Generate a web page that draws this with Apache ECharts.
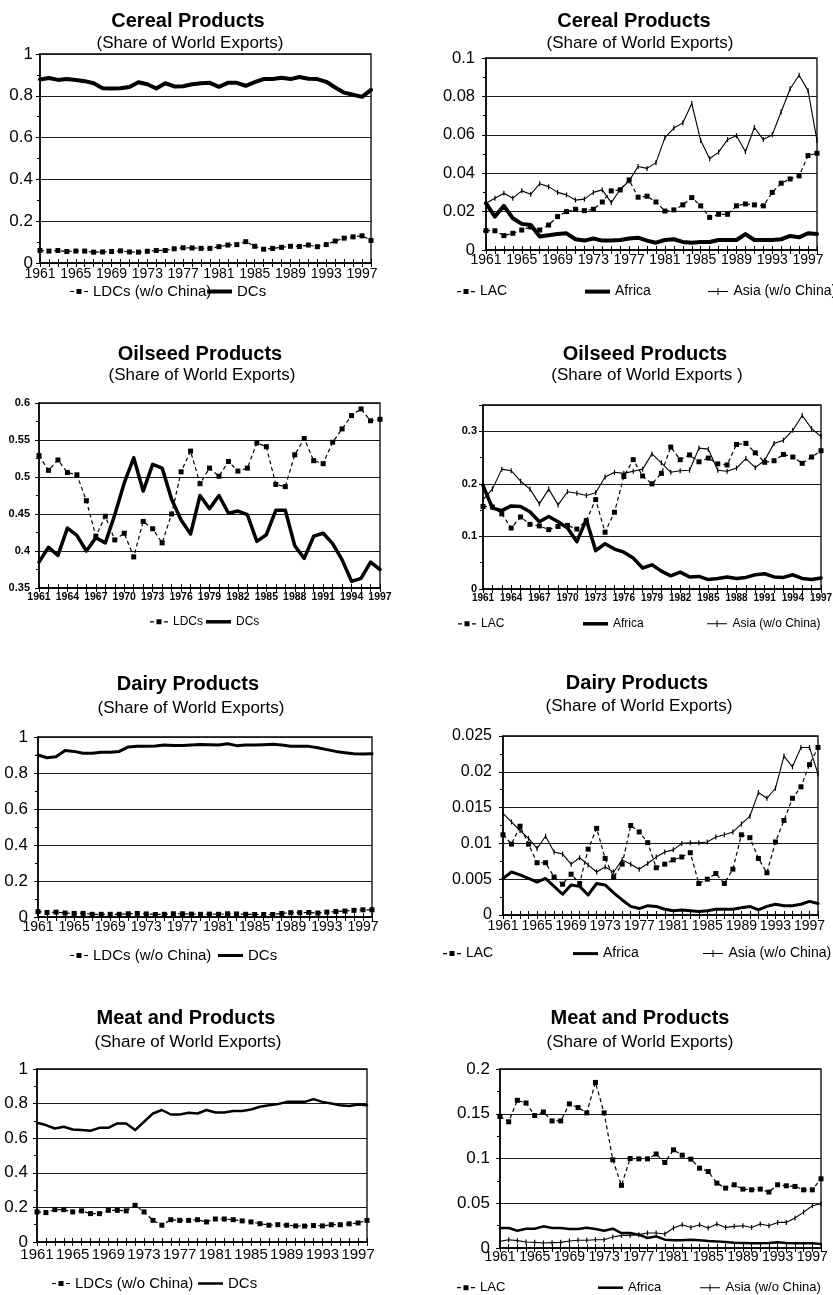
<!DOCTYPE html>
<html>
<head>
<meta charset="utf-8">
<script src="https://cdn.jsdelivr.net/npm/echarts@6/dist/echarts.min.js"></script>
<style>
  html, body { margin: 0; padding: 0; background: #fff; }
  #chart { width: 833px; height: 1295px; }
</style>
</head>
<body>
<div id="chart"></div>
<script>
// Year categories
const yearsTo1998 = ['1961','1962','1963','1964','1965','1966','1967','1968','1969','1970',
  '1971','1972','1973','1974','1975','1976','1977','1978','1979','1980',
  '1981','1982','1983','1984','1985','1986','1987','1988','1989','1990',
  '1991','1992','1993','1994','1995','1996','1997','1998'];
const yearsTo1997 = yearsTo1998.slice(0, 37);

// Cereal products, share of world exports
const cerealLdcs = [0.060,0.057,0.060,0.055,0.057,0.057,0.052,0.053,0.055,0.058,
  0.053,0.052,0.056,0.060,0.060,0.068,0.073,0.072,0.070,0.070,
  0.078,0.086,0.088,0.102,0.080,0.066,0.070,0.075,0.080,0.079,
  0.086,0.078,0.088,0.105,0.119,0.125,0.130,0.108];
const cerealDcs = [0.878,0.885,0.876,0.880,0.876,0.870,0.860,0.836,0.835,0.836,
  0.842,0.865,0.855,0.835,0.860,0.845,0.846,0.855,0.860,0.862,
  0.843,0.862,0.862,0.848,0.865,0.880,0.880,0.886,0.880,0.890,
  0.882,0.880,0.867,0.840,0.815,0.805,0.795,0.828];
const cerealLac = [0.0101,0.0100,0.0075,0.0087,0.0104,0.0120,0.0104,0.0130,0.0174,0.0200,
  0.0212,0.0205,0.0212,0.0250,0.0308,0.0313,0.0365,0.0275,0.0280,0.0250,
  0.0203,0.0209,0.0235,0.0273,0.0230,0.0170,0.0186,0.0186,0.0230,0.0240,
  0.0235,0.0230,0.0300,0.0348,0.0370,0.0386,0.0492,0.0504];
const cerealAfrica = [0.0243,0.0174,0.0230,0.0165,0.0136,0.0130,0.0070,0.0077,0.0083,0.0087,
  0.0056,0.0049,0.0060,0.0049,0.0049,0.0052,0.0060,0.0064,0.0049,0.0038,
  0.0052,0.0056,0.0042,0.0038,0.0042,0.0042,0.0052,0.0052,0.0052,0.0083,
  0.0052,0.0052,0.0052,0.0056,0.0073,0.0066,0.0087,0.0083];
const cerealAsia = [0.0243,0.0270,0.0296,0.0270,0.0308,0.0290,0.0345,0.0330,0.0300,0.0287,
  0.0260,0.0265,0.0300,0.0313,0.0247,0.0315,0.0360,0.0435,0.0425,0.0455,
  0.0585,0.0635,0.0662,0.0763,0.0570,0.0475,0.0510,0.0575,0.0595,0.0512,
  0.0638,0.0575,0.0600,0.0720,0.0840,0.0910,0.0830,0.0570];

// Oilseed products (1961-1997)
const oilLdcs = [0.529,0.509,0.523,0.506,0.503,0.468,0.420,0.447,0.415,0.424,
  0.392,0.440,0.430,0.411,0.450,0.507,0.535,0.491,0.512,0.501,
  0.521,0.508,0.512,0.546,0.541,0.490,0.487,0.530,0.552,0.522,
  0.518,0.547,0.565,0.583,0.592,0.576,0.578];
const oilDcs = [0.385,0.405,0.394,0.431,0.421,0.400,0.418,0.411,0.449,0.492,
  0.526,0.481,0.517,0.512,0.470,0.442,0.423,0.475,0.457,0.475,
  0.451,0.454,0.449,0.413,0.422,0.455,0.455,0.407,0.390,0.420,
  0.424,0.410,0.388,0.359,0.363,0.385,0.375];
const oilLac = [0.157,0.156,0.143,0.116,0.137,0.123,0.120,0.113,0.119,0.121,
  0.114,0.130,0.170,0.108,0.146,0.214,0.246,0.215,0.200,0.220,
  0.270,0.246,0.255,0.242,0.249,0.238,0.236,0.275,0.277,0.259,
  0.241,0.244,0.256,0.251,0.239,0.251,0.263];
const oilAfrica = [0.197,0.154,0.149,0.158,0.157,0.147,0.128,0.138,0.128,0.116,
  0.090,0.132,0.073,0.086,0.076,0.070,0.059,0.040,0.046,0.034,
  0.025,0.032,0.023,0.024,0.018,0.020,0.023,0.020,0.022,0.027,
  0.029,0.023,0.022,0.027,0.020,0.018,0.021];
const oilAsia = [0.170,0.190,0.228,0.225,0.205,0.190,0.162,0.190,0.160,0.185,
  0.182,0.178,0.183,0.213,0.222,0.220,0.224,0.228,0.257,0.240,
  0.222,0.225,0.226,0.268,0.266,0.226,0.224,0.230,0.248,0.231,
  0.245,0.277,0.283,0.302,0.330,0.305,0.290];

// Dairy products
const dairyLdcs = [0.030,0.025,0.027,0.022,0.020,0.020,0.015,0.015,0.015,0.015,
  0.018,0.020,0.017,0.014,0.015,0.018,0.018,0.016,0.015,0.016,
  0.015,0.018,0.017,0.015,0.014,0.014,0.014,0.020,0.024,0.024,
  0.025,0.022,0.027,0.030,0.033,0.037,0.040,0.040];
const dairyDcs = [0.900,0.885,0.890,0.925,0.920,0.910,0.910,0.915,0.915,0.920,
  0.945,0.948,0.948,0.950,0.955,0.953,0.953,0.955,0.958,0.957,
  0.955,0.962,0.952,0.955,0.955,0.957,0.960,0.955,0.948,0.948,
  0.948,0.940,0.930,0.920,0.913,0.907,0.905,0.907];
const dairyLac = [0.0112,0.0099,0.0124,0.0099,0.0073,0.0073,0.0053,0.0043,0.0057,0.0044,
  0.0092,0.0121,0.0079,0.0053,0.0071,0.0125,0.0116,0.0101,0.0066,0.0071,
  0.0077,0.0081,0.0087,0.0044,0.0050,0.0058,0.0044,0.0064,0.0112,0.0108,
  0.0079,0.0059,0.0102,0.0132,0.0163,0.0179,0.0210,0.0234];
const dairyAfrica = [0.0051,0.0060,0.0056,0.0051,0.0046,0.0051,0.0040,0.0029,0.0042,0.0040,
  0.0028,0.0044,0.0042,0.0031,0.0021,0.0012,0.0009,0.0013,0.0012,0.0008,
  0.0006,0.0007,0.0006,0.0005,0.0006,0.0008,0.0008,0.0008,0.0010,0.0012,
  0.0007,0.0012,0.0015,0.0013,0.0013,0.0015,0.0019,0.0016];
const dairyAsia = [0.0142,0.0130,0.0118,0.0107,0.0093,0.0110,0.0088,0.0085,0.0071,0.0080,
  0.0070,0.0060,0.0067,0.0060,0.0077,0.0071,0.0064,0.0072,0.0081,0.0088,
  0.0091,0.0100,0.0101,0.0101,0.0102,0.0109,0.0112,0.0116,0.0127,0.0138,
  0.0171,0.0163,0.0177,0.0222,0.0207,0.0234,0.0234,0.0197];

// Meat and products
const meatLdcs = [0.174,0.170,0.187,0.187,0.174,0.180,0.164,0.164,0.183,0.183,
  0.180,0.212,0.174,0.125,0.097,0.129,0.125,0.125,0.129,0.116,
  0.133,0.133,0.129,0.122,0.116,0.106,0.097,0.100,0.097,0.093,
  0.092,0.095,0.093,0.100,0.100,0.105,0.110,0.125];
const meatDcs = [0.689,0.676,0.656,0.666,0.650,0.647,0.643,0.660,0.660,0.685,
  0.685,0.647,0.695,0.743,0.763,0.737,0.737,0.747,0.743,0.763,
  0.749,0.749,0.757,0.757,0.766,0.782,0.790,0.797,0.810,0.810,
  0.810,0.826,0.810,0.800,0.790,0.786,0.795,0.790];
const meatLac = [0.147,0.141,0.165,0.162,0.148,0.152,0.142,0.142,0.161,0.157,
  0.151,0.185,0.151,0.0985,0.070,0.100,0.0996,0.0996,0.105,0.0955,
  0.1097,0.1037,0.0993,0.0892,0.0855,0.0725,0.0669,0.0706,0.0658,0.065,
  0.0658,0.0625,0.0706,0.0695,0.0688,0.065,0.065,0.0773];
const meatAfrica = [0.0223,0.0223,0.0193,0.0216,0.0216,0.0242,0.0223,0.0223,0.0212,0.0212,
  0.0227,0.0212,0.0193,0.0216,0.0167,0.0167,0.0149,0.0112,0.0130,0.0093,
  0.0086,0.0086,0.0093,0.0086,0.0078,0.0074,0.0067,0.0060,0.0056,0.0052,
  0.0052,0.0056,0.0063,0.0056,0.0052,0.0052,0.0052,0.0045];
const meatAsia = [0.0074,0.0093,0.0082,0.0067,0.0063,0.0056,0.0060,0.0063,0.0078,0.0086,
  0.0086,0.0093,0.0093,0.0123,0.0141,0.0141,0.0149,0.0167,0.0167,0.0156,
  0.0223,0.0260,0.0230,0.0260,0.0223,0.0268,0.0230,0.0242,0.0249,0.0230,
  0.0268,0.0249,0.0286,0.0286,0.0335,0.0401,0.0472,0.0494];

const SUBTITLE = '(Share of World Exports)';
const SANS = '"Liberation Sans", Arial, Helvetica, sans-serif';
const NARROW = '"Liberation Sans Narrow", "Arial Narrow", "Liberation Sans", sans-serif';

// Panel layout: plot box, axis ranges, fonts and legend placement
const panels = [
  { title: 'Cereal Products', sub: SUBTITLE, tx: 188, ty: 21, sx: 190, sy: 43,
    grid: { left: 40, top: 54, width: 331, height: 209 }, years: yearsTo1998, every: 4,
    y: { min: 0, max: 1, interval: 0.2 }, yFont: 17, yFam: SANS, yBold: false, yMargin: 7,
    xFont: 14, xFam: NARROW, xBold: false, xMargin: 4,
    series: [['dash', 'LDCs (w/o China)', cerealLdcs], ['thick', 'DCs', cerealDcs, 4]],
    legend: [['dash', 'LDCs (w/o China)', 70, 293, 15], ['thick', 'DCs', 207, 293, 15, 4]] },
  { title: 'Cereal Products', sub: SUBTITLE, tx: 634, ty: 21, sx: 640, sy: 43,
    grid: { left: 486, top: 58, width: 331, height: 192 }, years: yearsTo1998, every: 4,
    y: { min: 0, max: 0.1, interval: 0.02 }, yFont: 16.5, yFam: SANS, yBold: false, yMargin: 11,
    xFont: 14, xFam: NARROW, xBold: false, xMargin: 3,
    series: [['dash', 'LAC', cerealLac], ['thick', 'Africa', cerealAfrica, 4], ['thin', 'Asia (w/o China)', cerealAsia]],
    legend: [['dash', 'LAC', 457, 293, 14], ['thick', 'Africa', 585, 293, 14, 4], ['thin', 'Asia (w/o China)', 708, 293, 14]] },
  { title: 'Oilseed Products', sub: SUBTITLE, tx: 200, ty: 354, sx: 202, sy: 375,
    grid: { left: 39, top: 403, width: 341, height: 185 }, years: yearsTo1997, every: 3,
    y: { min: 0.35, max: 0.6, interval: 0.05 }, yFont: 11, yFam: NARROW, yBold: true, yMargin: 9,
    xFont: 10.5, xFam: NARROW, xBold: true, xMargin: 4,
    series: [['dash', 'LDCs', oilLdcs], ['thick', 'DCs', oilDcs, 3.5]],
    legend: [['dash', 'LDCs', 150, 623, 12], ['thick', 'DCs', 206, 623, 12, 3.5]] },
  { title: 'Oilseed Products', sub: '(Share of World Exports )', tx: 645, ty: 354, sx: 647, sy: 375,
    grid: { left: 483, top: 405, width: 338, height: 184 }, years: yearsTo1997, every: 3,
    y: { min: 0, max: 0.35, interval: 0.1 }, hideMax: true, yFont: 11, yFam: NARROW, yBold: true, yMargin: 6,
    xFont: 10, xFam: NARROW, xBold: true, xMargin: 4,
    series: [['dash', 'LAC', oilLac], ['thick', 'Africa', oilAfrica, 3.5], ['thin', 'Asia (w/o China)', oilAsia]],
    legend: [['dash', 'LAC', 458, 625, 12], ['thick', 'Africa', 583, 625, 12, 3.5], ['thin', 'Asia (w/o China)', 707, 625, 12]] },
  { title: 'Dairy Products', sub: SUBTITLE, tx: 188, ty: 684, sx: 191, sy: 708,
    grid: { left: 38, top: 737, width: 334, height: 180 }, years: yearsTo1998, every: 4,
    y: { min: 0, max: 1, interval: 0.2 }, yFont: 17, yFam: SANS, yBold: false, yMargin: 10,
    xFont: 14, xFam: NARROW, xBold: false, xMargin: 3,
    series: [['dash', 'LDCs (w/o China)', dairyLdcs], ['thick', 'DCs', dairyDcs, 3]],
    legend: [['dash', 'LDCs (w/o China)', 70, 957, 15], ['thick', 'DCs', 218, 957, 15, 3]] },
  { title: 'Dairy Products', sub: SUBTITLE, tx: 637, ty: 683, sx: 639, sy: 706,
    grid: { left: 503, top: 736, width: 315, height: 179 }, years: yearsTo1998, every: 4,
    y: { min: 0, max: 0.025, interval: 0.005 }, yFont: 16, yFam: SANS, yBold: false, yMargin: 11,
    xFont: 14, xFam: NARROW, xBold: false, xMargin: 4,
    series: [['dash', 'LAC', dairyLac], ['thick', 'Africa', dairyAfrica, 3], ['thin', 'Asia (w/o China)', dairyAsia]],
    legend: [['dash', 'LAC', 443, 955, 14], ['thick', 'Africa', 573, 955, 14, 3], ['thin', 'Asia (w/o China)', 703, 955, 14]] },
  { title: 'Meat and Products', sub: SUBTITLE, tx: 186, ty: 1018, sx: 188, sy: 1042,
    grid: { left: 37, top: 1069, width: 330, height: 173 }, years: yearsTo1998, every: 4,
    y: { min: 0, max: 1, interval: 0.2 }, yFont: 17, yFam: SANS, yBold: false, yMargin: 9,
    xFont: 15, xFam: NARROW, xBold: false, xMargin: 5,
    series: [['dash', 'LDCs (w/o China)', meatLdcs], ['thick', 'DCs', meatDcs, 2.5]],
    legend: [['dash', 'LDCs (w/o China)', 52, 1285, 15], ['thick', 'DCs', 198, 1285, 15, 2.5]] },
  { title: 'Meat and Products', sub: SUBTITLE, tx: 640, ty: 1018, sx: 640, sy: 1042,
    grid: { left: 500, top: 1069, width: 321, height: 179 }, years: yearsTo1998, every: 4,
    y: { min: 0, max: 0.2, interval: 0.05 }, yFont: 17, yFam: SANS, yBold: false, yMargin: 10,
    xFont: 14, xFam: NARROW, xBold: false, xMargin: 2,
    series: [['dash', 'LAC', meatLac], ['thick', 'Africa', meatAfrica, 2.5], ['thin', 'Asia (w/o China)', meatAsia]],
    legend: [['dash', 'LAC', 457, 1289, 13], ['thick', 'Africa', 598, 1289, 13, 2.5], ['thin', 'Asia (w/o China)', 700, 1289, 13]] }
];

// Legend glyphs: dash-square-dash and a line crossed by a short tick
const ICON_DASH = 'path://M0,2.4L4,2.4L4,3.6L0,3.6Z M6.5,0.5L11.5,0.5L11.5,5.5L6.5,5.5Z M14,2.4L18,2.4L18,3.6L14,3.6Z';
const ICON_PLUS = 'path://M0,3L20,3L20,4L0,4Z M9.5,0L10.5,0L10.5,7L9.5,7Z';

function makeSeries(kind, name, data, gi, width) {
  const base = { type: 'line', name, data, xAxisIndex: gi * 2, yAxisIndex: gi,
    animation: false, silent: true, showAllSymbol: true, emphasis: { disabled: true } };
  if (kind === 'dash') {
    return Object.assign(base, { symbol: 'rect', symbolSize: 5, z: 3,
      itemStyle: { color: '#000' }, lineStyle: { color: '#000', width: 1.2, type: [4, 3] } });
  }
  if (kind === 'thin') {
    return Object.assign(base, { symbol: 'rect', symbolSize: [1.2, 5], z: 4,
      itemStyle: { color: '#000' }, lineStyle: { color: '#000', width: 1.1 } });
  }
  return Object.assign(base, { symbol: 'none', z: 5, itemStyle: { color: '#000' },
    lineStyle: { color: '#000', width, cap: 'round', join: 'round' } });
}

function makeLegend(kind, name, x, cy, fs, width) {
  const spec = kind === 'dash' ? { w: 18, h: 6, icon: ICON_DASH }
    : kind === 'thin' ? { w: 21, h: 7, icon: ICON_PLUS }
    : { w: 25, h: width, icon: 'rect' };
  return { show: true, left: x, top: cy - fs * 0.6, padding: 0, itemGap: 0,
    itemWidth: spec.w, itemHeight: spec.h, selectedMode: false,
    data: [{ name, icon: spec.icon, itemStyle: { color: '#000', borderWidth: 0 } }],
    textStyle: { fontSize: fs, fontFamily: SANS, color: '#000' } };
}

const grids = [], xAxes = [], yAxes = [], series = [], legends = [], graphics = [];
panels.forEach((p, i) => {
  grids.push(Object.assign({ show: true, borderColor: '#000', borderWidth: 1.3,
    backgroundColor: 'transparent', outerBoundsMode: 'none', containLabel: false }, p.grid));
  xAxes.push({ gridIndex: i, type: 'category', data: p.years, boundaryGap: false, position: 'bottom',
    axisLine: { show: true, lineStyle: { color: '#000', width: 1.5 } },
    axisTick: { show: true, interval: 0, length: 4, lineStyle: { color: '#000', width: 1 } },
    axisLabel: { interval: p.every - 1, hideOverlap: false, margin: p.xMargin, color: '#000',
      fontSize: p.xFont, fontFamily: p.xFam, fontWeight: p.xBold ? 'bold' : 'normal' },
    splitLine: { show: false } });
  // inward half of the crossing year ticks
  xAxes.push({ gridIndex: i, type: 'category', data: p.years, boundaryGap: false, position: 'bottom',
    axisLine: { show: false },
    axisTick: { show: true, inside: true, interval: 0, length: 4, lineStyle: { color: '#000', width: 1 } },
    axisLabel: { show: false }, splitLine: { show: false } });
  yAxes.push({ gridIndex: i, type: 'value', min: p.y.min, max: p.y.max, interval: p.y.interval,
    axisLine: { show: true, lineStyle: { color: '#000', width: 1.5 } },
    axisTick: { show: true, length: 4, lineStyle: { color: '#000', width: 1 } },
    minorTick: { show: true, splitNumber: 2, length: 3, lineStyle: { color: '#000', width: 1 } },
    splitLine: { show: true, lineStyle: { color: '#1a1a1a', width: 1 } },
    axisLabel: { margin: p.yMargin, color: '#000', fontSize: p.yFont, fontFamily: p.yFam,
      fontWeight: p.yBold ? 'bold' : 'normal', showMaxLabel: !p.hideMax, hideOverlap: false } });
  p.series.forEach(s => series.push(makeSeries(s[0], s[1], s[2], i, s[3])));
  p.legend.forEach(l => legends.push(makeLegend(l[0], l[1], l[2], l[3], l[4], l[5])));
  graphics.push({ type: 'text', x: p.tx, y: p.ty, silent: true,
    style: { text: p.title, fill: '#000', fontSize: 20, fontWeight: 'bold', fontFamily: SANS,
      align: 'center', verticalAlign: 'middle' } });
  graphics.push({ type: 'text', x: p.sx, y: p.sy, silent: true,
    style: { text: p.sub, fill: '#000', fontSize: 17, fontFamily: SANS,
      align: 'center', verticalAlign: 'middle' } });
});

const chart = echarts.init(document.getElementById('chart'), null, { renderer: 'canvas' });
chart.setOption({
  backgroundColor: '#fff',
  animation: false,
  grid: grids,
  xAxis: xAxes,
  yAxis: yAxes,
  legend: legends,
  series: series,
  graphic: graphics
});
</script>
</body>
</html>
